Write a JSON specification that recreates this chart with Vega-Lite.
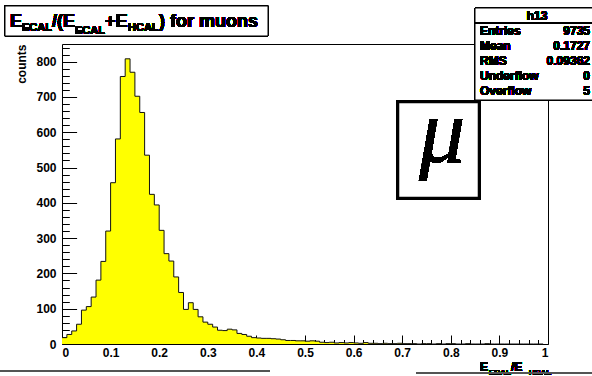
{
  "$schema": "https://vega.github.io/schema/vega-lite/v6.json",
  "width": 486,
  "height": 300,
  "autosize": {"type": "none"},
  "padding": {"left": 62, "top": 44, "right": 44, "bottom": 32},
  "background": "white",
  "config": {
    "view": {"stroke": "black", "strokeWidth": 1},
    "font": "Liberation Sans",
    "axis": {
      "domain": false,
      "grid": false,
      "tickColor": "black",
      "tickWidth": 1,
      "labelColor": "black",
      "labelFont": "Liberation Sans",
      "labelFontWeight": "bold",
      "labelFontSize": 12,
      "titleColor": "black"
    },
    "text": {"font": "Liberation Sans", "fontWeight": "bold", "baseline": "alphabetic", "color": "black"}
  },
  "data": {
    "values": [
      {"lo": 0.00, "n": 18}, {"lo": 0.01, "n": 27}, {"lo": 0.02, "n": 37}, {"lo": 0.03, "n": 56}, {"lo": 0.04, "n": 96},
      {"lo": 0.05, "n": 106}, {"lo": 0.06, "n": 133}, {"lo": 0.07, "n": 181}, {"lo": 0.08, "n": 234}, {"lo": 0.09, "n": 320},
      {"lo": 0.10, "n": 457}, {"lo": 0.11, "n": 581}, {"lo": 0.12, "n": 758}, {"lo": 0.13, "n": 808}, {"lo": 0.14, "n": 770},
      {"lo": 0.15, "n": 702}, {"lo": 0.16, "n": 656}, {"lo": 0.17, "n": 535}, {"lo": 0.18, "n": 424}, {"lo": 0.19, "n": 394},
      {"lo": 0.20, "n": 322}, {"lo": 0.21, "n": 256}, {"lo": 0.22, "n": 235}, {"lo": 0.23, "n": 190}, {"lo": 0.24, "n": 146},
      {"lo": 0.25, "n": 98}, {"lo": 0.26, "n": 117}, {"lo": 0.27, "n": 98}, {"lo": 0.28, "n": 77}, {"lo": 0.29, "n": 62},
      {"lo": 0.30, "n": 56}, {"lo": 0.31, "n": 48}, {"lo": 0.32, "n": 39}, {"lo": 0.33, "n": 38}, {"lo": 0.34, "n": 42},
      {"lo": 0.35, "n": 40}, {"lo": 0.36, "n": 30}, {"lo": 0.37, "n": 27}, {"lo": 0.38, "n": 22}, {"lo": 0.39, "n": 18},
      {"lo": 0.40, "n": 17}, {"lo": 0.41, "n": 16}, {"lo": 0.42, "n": 16}, {"lo": 0.43, "n": 15}, {"lo": 0.44, "n": 14},
      {"lo": 0.45, "n": 12}, {"lo": 0.46, "n": 10}, {"lo": 0.47, "n": 10}, {"lo": 0.48, "n": 9}, {"lo": 0.49, "n": 9},
      {"lo": 0.50, "n": 8}, {"lo": 0.51, "n": 9}, {"lo": 0.52, "n": 8}, {"lo": 0.53, "n": 5}, {"lo": 0.54, "n": 4},
      {"lo": 0.55, "n": 5}, {"lo": 0.56, "n": 3}, {"lo": 0.57, "n": 4}, {"lo": 0.58, "n": 3}, {"lo": 0.59, "n": 4},
      {"lo": 0.60, "n": 3}, {"lo": 0.61, "n": 2}, {"lo": 0.62, "n": 4}, {"lo": 0.63, "n": 2}, {"lo": 0.64, "n": 2},
      {"lo": 0.65, "n": 1}, {"lo": 0.66, "n": 2}, {"lo": 0.67, "n": 1}, {"lo": 0.68, "n": 1}, {"lo": 0.69, "n": 2},
      {"lo": 0.70, "n": 1}, {"lo": 0.71, "n": 1}, {"lo": 0.72, "n": 1}, {"lo": 0.73, "n": 0}, {"lo": 0.74, "n": 1},
      {"lo": 0.75, "n": 1}, {"lo": 0.76, "n": 0}, {"lo": 0.77, "n": 1}, {"lo": 0.78, "n": 0}, {"lo": 0.79, "n": 1},
      {"lo": 0.80, "n": 1}, {"lo": 0.81, "n": 0}, {"lo": 0.82, "n": 0}, {"lo": 0.83, "n": 1}, {"lo": 0.84, "n": 0},
      {"lo": 0.85, "n": 0}, {"lo": 0.86, "n": 0}, {"lo": 0.87, "n": 1}, {"lo": 0.88, "n": 0}, {"lo": 0.89, "n": 0},
      {"lo": 0.90, "n": 0}, {"lo": 0.91, "n": 0}, {"lo": 0.92, "n": 0}, {"lo": 0.93, "n": 0}, {"lo": 0.94, "n": 0},
      {"lo": 0.95, "n": 0}, {"lo": 0.96, "n": 0}, {"lo": 0.97, "n": 0}, {"lo": 0.98, "n": 0}, {"lo": 0.99, "n": 0}
    ]
  },
  "layer": [
    {
      "mark": {"type": "area", "interpolate": "step-after", "color": "#ffff00"},
      "encoding": {
        "x": {"field": "lo", "type": "quantitative",
              "scale": {"domain": [0, 1], "nice": false, "zero": false},
              "axis": {"values": [0, 0.1, 0.2, 0.3, 0.4, 0.5, 0.6, 0.7, 0.8, 0.9, 1], "format": ".1~f",
                       "tickSize": -9, "labelPadding": 12, "title": null}},
        "y": {"field": "n", "type": "quantitative",
              "scale": {"domain": [0, 850], "nice": false},
              "axis": {"values": [0, 100, 200, 300, 400, 500, 600, 700, 800],
                       "tickSize": -14.6, "labelPadding": 20.6,
                       "title": "counts", "titleAnchor": "end", "titleFontSize": 12,
                       "titleFontWeight": "bold", "titlePadding": 7}}
      }
    },
    {
      "mark": {"type": "line", "interpolate": "step-after", "color": "#111111", "strokeWidth": 1},
      "encoding": {
        "x": {"field": "lo", "type": "quantitative",
              "axis": {"values": [0.02, 0.04, 0.06, 0.08, 0.12, 0.14, 0.16, 0.18, 0.22, 0.24, 0.26, 0.28, 0.32, 0.34, 0.36, 0.38, 0.42, 0.44, 0.46, 0.48, 0.52, 0.54, 0.56, 0.58, 0.62, 0.64, 0.66, 0.68, 0.72, 0.74, 0.76, 0.78, 0.82, 0.84, 0.86, 0.88, 0.92, 0.94, 0.96, 0.98],
                       "orient": "bottom", "tickSize": -4.5, "labels": false, "title": null}},
        "y": {"field": "n", "type": "quantitative",
              "axis": {"values": [20, 40, 60, 80, 120, 140, 160, 180, 220, 240, 260, 280, 320, 340, 360, 380, 420, 440, 460, 480, 520, 540, 560, 580, 620, 640, 660, 680, 720, 740, 760, 780, 820, 840],
                       "orient": "left", "tickSize": -7.3, "labels": false, "title": null}}
      }
    },
    {
      "mark": {"type": "rect", "fill": "white", "stroke": "black", "strokeWidth": 1},
      "encoding": {
        "x": {"datum": -0.1173, "type": "quantitative", "axis": null},
        "x2": {"datum": 0.4239},
        "y": {"datum": 957.7, "type": "quantitative", "axis": null},
        "y2": {"datum": 872.7}
      }
    },
    {
      "mark": {"type": "text", "align": "left", "fontSize": 18},
      "encoding": {
        "x": {"datum": -0.107, "type": "quantitative", "axis": null},
        "y": {"datum": 898.2, "type": "quantitative", "axis": null},
        "text": {"value": "E"}
      }
    },
    {
      "mark": {"type": "text", "align": "left", "fontSize": 11},
      "encoding": {
        "x": {"datum": -0.0823, "type": "quantitative", "axis": null},
        "y": {"datum": 886.8, "type": "quantitative", "axis": null},
        "text": {"value": "ECAL"}
      }
    },
    {
      "mark": {"type": "text", "align": "left", "fontSize": 18},
      "encoding": {
        "x": {"datum": -0.0206, "type": "quantitative", "axis": null},
        "y": {"datum": 898.2, "type": "quantitative", "axis": null},
        "text": {"value": "/(E"}
      }
    },
    {
      "mark": {"type": "text", "align": "left", "fontSize": 11},
      "encoding": {
        "x": {"datum": 0.0267, "type": "quantitative", "axis": null},
        "y": {"datum": 878.3, "type": "quantitative", "axis": null},
        "text": {"value": "ECAL"}
      }
    },
    {
      "mark": {"type": "text", "align": "left", "fontSize": 18},
      "encoding": {
        "x": {"datum": 0.0885, "type": "quantitative", "axis": null},
        "y": {"datum": 898.2, "type": "quantitative", "axis": null},
        "text": {"value": "+E"}
      }
    },
    {
      "mark": {"type": "text", "align": "left", "fontSize": 11},
      "encoding": {
        "x": {"datum": 0.1358, "type": "quantitative", "axis": null},
        "y": {"datum": 886.8, "type": "quantitative", "axis": null},
        "text": {"value": "HCAL"}
      }
    },
    {
      "mark": {"type": "text", "align": "left", "fontSize": 18},
      "encoding": {
        "x": {"datum": 0.1996, "type": "quantitative", "axis": null},
        "y": {"datum": 898.2, "type": "quantitative", "axis": null},
        "text": {"value": ") for muons"}
      }
    },
    {
      "mark": {"type": "rect", "fill": "white", "stroke": "black", "strokeWidth": 1},
      "encoding": {
        "x": {"datum": 0.8498, "type": "quantitative", "axis": null},
        "x2": {"datum": 1.107},
        "y": {"datum": 952, "type": "quantitative", "axis": null},
        "y2": {"datum": 691.3}
      }
    },
    {
      "mark": {"type": "rule", "color": "black", "strokeWidth": 1},
      "encoding": {
        "x": {"datum": 0.8498, "type": "quantitative", "axis": null},
        "x2": {"datum": 1.107},
        "y": {"datum": 909.5, "type": "quantitative", "axis": null}
      }
    },
    {
      "mark": {"type": "text", "align": "center", "fontSize": 12},
      "encoding": {
        "x": {"datum": 0.9774, "type": "quantitative", "axis": null},
        "y": {"datum": 918, "type": "quantitative", "axis": null},
        "text": {"value": "h13"}
      }
    },
    {
      "mark": {"type": "text", "align": "left", "fontSize": 12, "lineHeight": 14.8},
      "encoding": {
        "x": {"datum": 0.8601, "type": "quantitative", "axis": null},
        "y": {"datum": 874.1, "type": "quantitative", "axis": null},
        "text": {"value": ["Entries", "Mean", "RMS", "Underflow", "Overflow"]}
      }
    },
    {
      "mark": {"type": "text", "align": "right", "fontSize": 12, "lineHeight": 14.8},
      "encoding": {
        "x": {"datum": 1.0864, "type": "quantitative", "axis": null},
        "y": {"datum": 874.1, "type": "quantitative", "axis": null},
        "text": {"value": ["9735", "0.1727", "0.09362", "0", "5"]}
      }
    },
    {
      "mark": {"type": "rect", "fill": "white", "stroke": "black", "strokeWidth": 2.5},
      "encoding": {
        "x": {"datum": 0.6914, "type": "quantitative", "axis": null},
        "x2": {"datum": 0.858},
        "y": {"datum": 685.7, "type": "quantitative", "axis": null},
        "y2": {"datum": 413.7}
      }
    },
    {
      "mark": {"type": "text", "align": "center", "font": "Liberation Serif", "fontStyle": "italic", "fontWeight": "normal", "fontSize": 92},
      "encoding": {
        "x": {"datum": 0.7819, "type": "quantitative", "axis": null},
        "y": {"datum": 515.7, "type": "quantitative", "axis": null},
        "text": {"value": "μ"}
      }
    },
    {
      "mark": {"type": "text", "align": "left", "fontSize": 12},
      "encoding": {
        "x": {"datum": 0.8601, "type": "quantitative", "axis": null},
        "y": {"datum": -76.5, "type": "quantitative", "axis": null},
        "text": {"value": "E"}
      }
    },
    {
      "mark": {"type": "text", "align": "left", "fontSize": 8},
      "encoding": {
        "x": {"datum": 0.8786, "type": "quantitative", "axis": null},
        "y": {"datum": -87.8, "type": "quantitative", "axis": null},
        "text": {"value": "ECAL"}
      }
    },
    {
      "mark": {"type": "text", "align": "left", "fontSize": 12},
      "encoding": {
        "x": {"datum": 0.9239, "type": "quantitative", "axis": null},
        "y": {"datum": -76.5, "type": "quantitative", "axis": null},
        "text": {"value": "/E"}
      }
    },
    {
      "mark": {"type": "text", "align": "left", "fontSize": 8},
      "encoding": {
        "x": {"datum": 0.9609, "type": "quantitative", "axis": null},
        "y": {"datum": -87.8, "type": "quantitative", "axis": null},
        "text": {"value": "HCAL"}
      }
    },
    {
      "mark": {"type": "rule", "color": "#555555", "strokeWidth": 1.5},
      "encoding": {
        "x": {"datum": -0.1276, "type": "quantitative", "axis": null},
        "x2": {"datum": 0.428},
        "y": {"datum": -76.5, "type": "quantitative", "axis": null}
      }
    },
    {
      "mark": {"type": "rule", "color": "#555555", "strokeWidth": 1.5},
      "encoding": {
        "x": {"datum": 0.7284, "type": "quantitative", "axis": null},
        "x2": {"datum": 1.0905},
        "y": {"datum": -82.2, "type": "quantitative", "axis": null}
      }
    }
  ],
  "resolve": {"axis": {"x": "independent", "y": "independent"}}
}
